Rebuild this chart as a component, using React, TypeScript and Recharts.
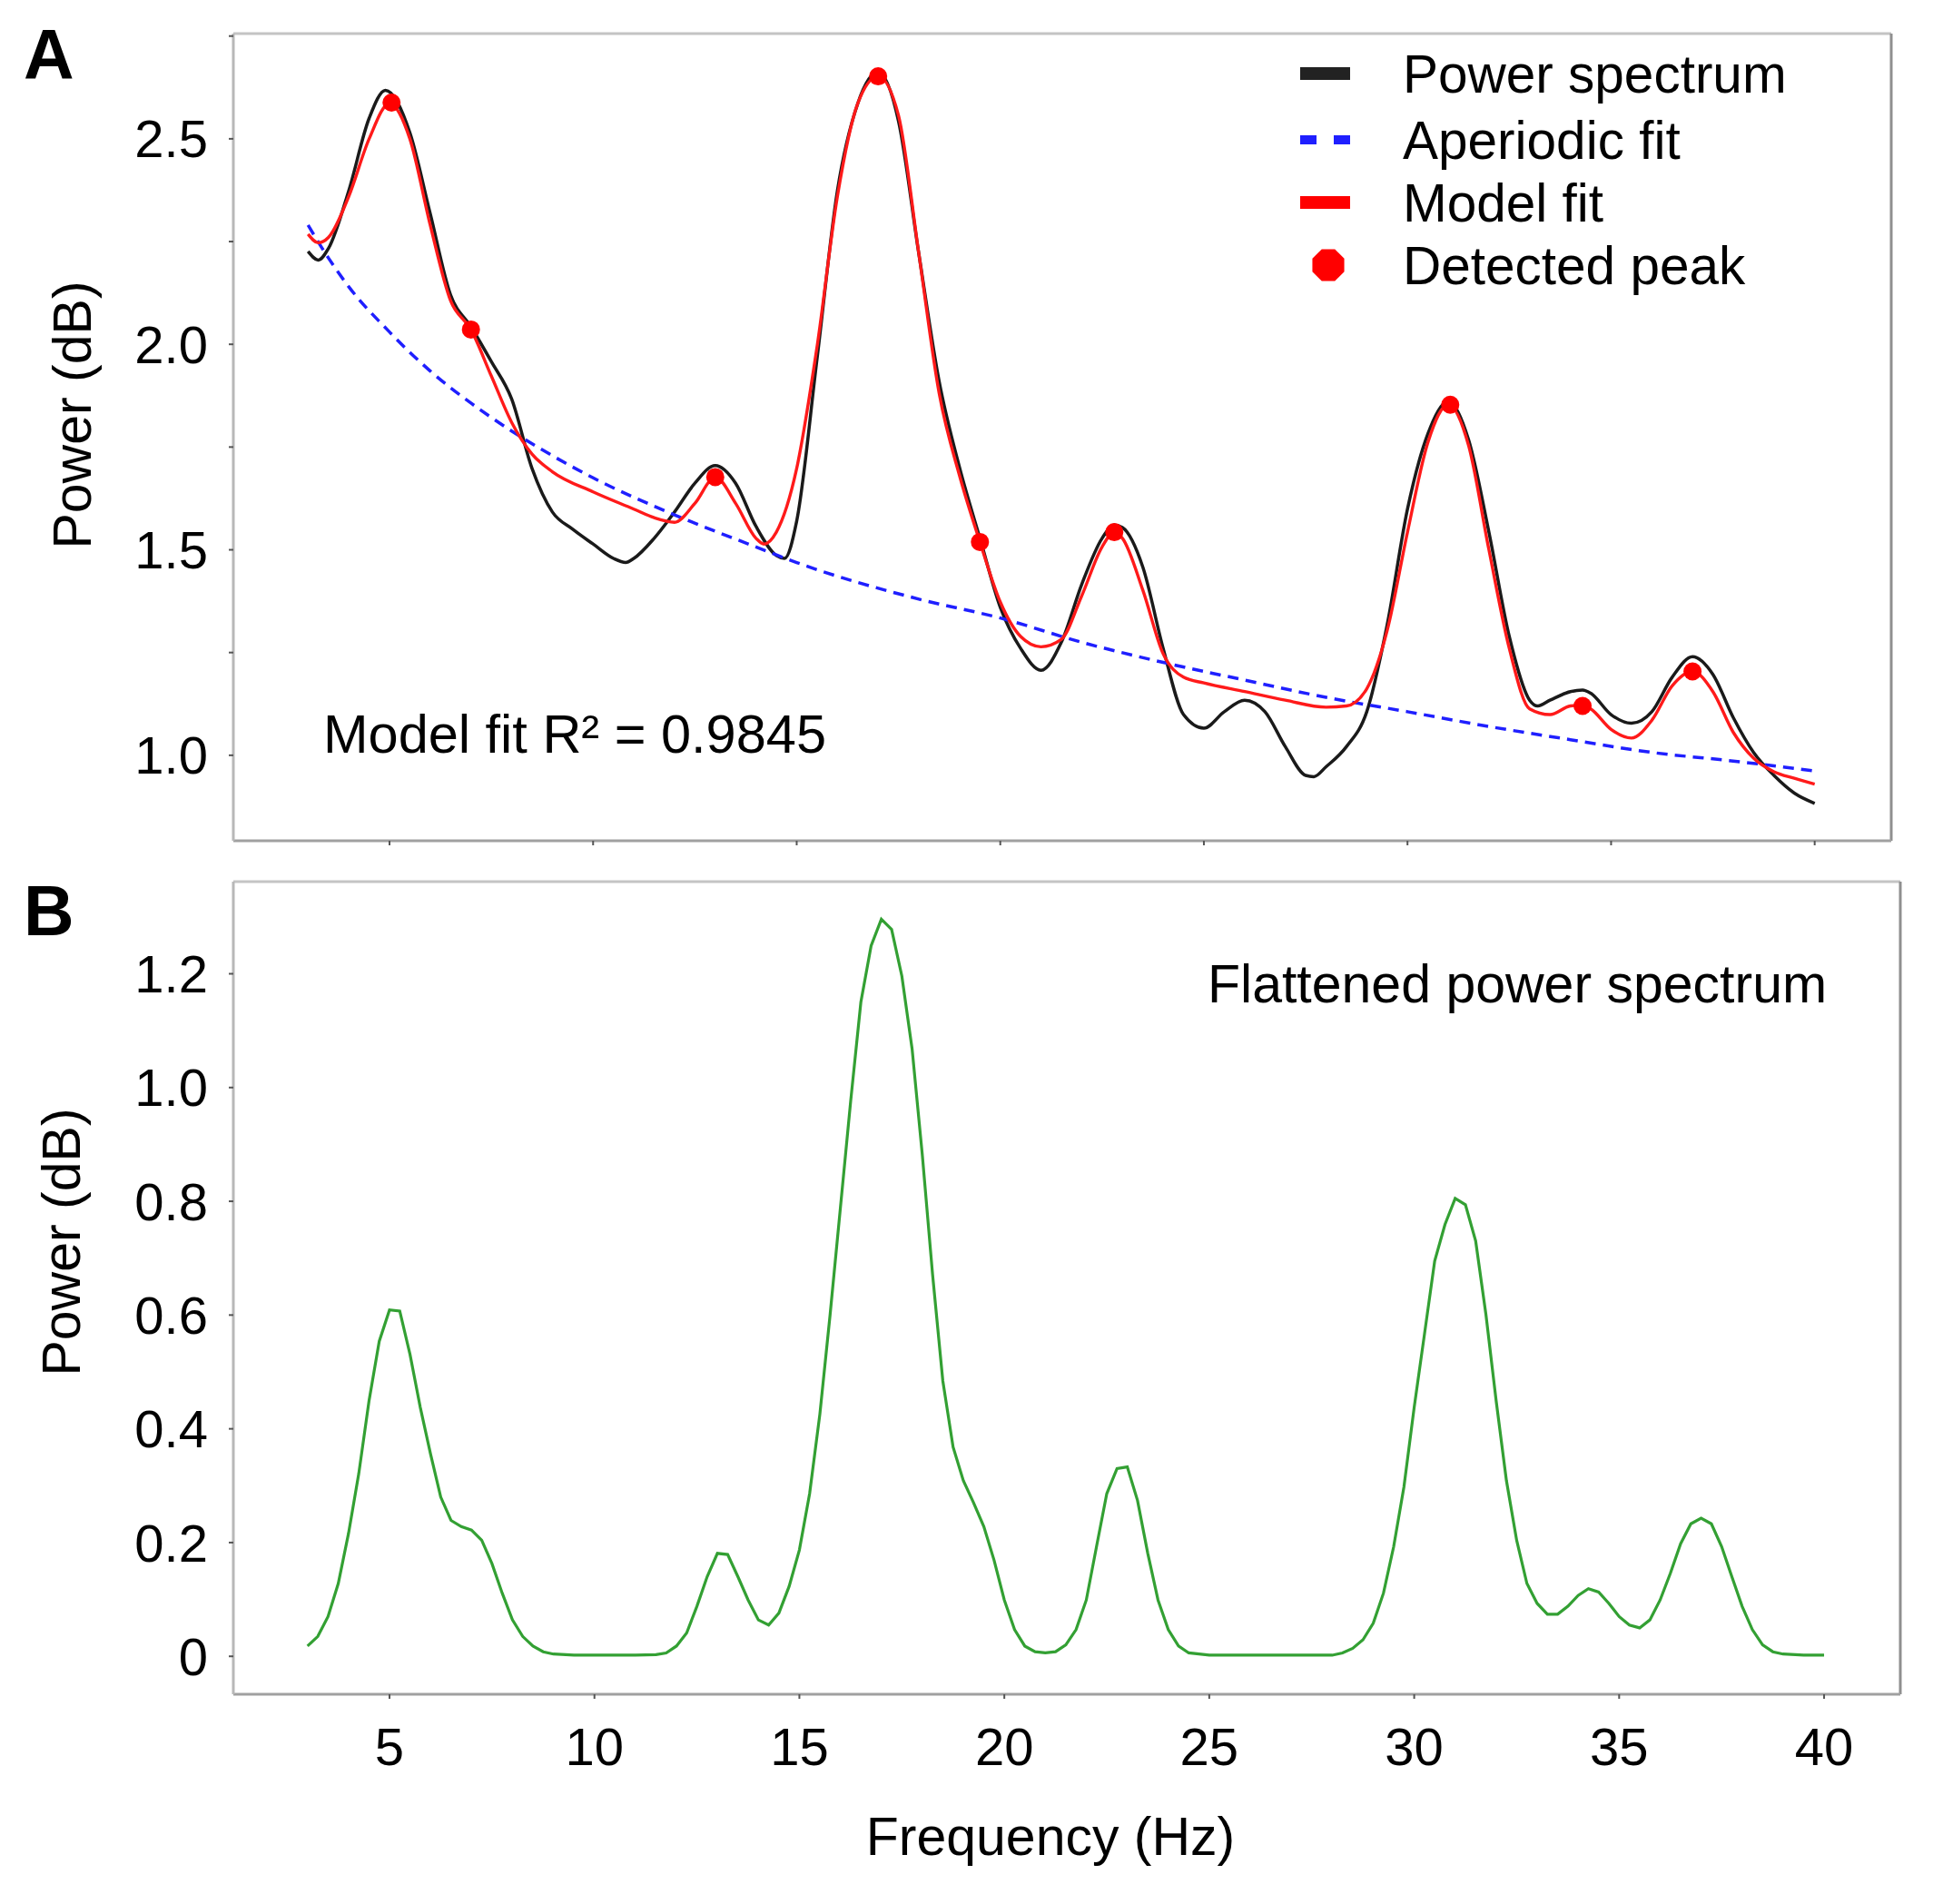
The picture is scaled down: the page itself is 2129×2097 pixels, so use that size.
import React from "react";
import { ComposedChart, Line, XAxis, YAxis, ReferenceLine, Legend } from "recharts";

const FONT = '"Liberation Sans", Arial, Helvetica, sans-serif';

// [frequency Hz, power dB]
const powerSpectrum: [number, number][] = [
  [3.0, 2.226], [3.25, 2.205], [3.5, 2.233], [4.0, 2.374], [4.5, 2.55], [4.9, 2.618],
  [5.5, 2.515], [6.0, 2.318], [6.5, 2.12], [7.0, 2.043], [7.5, 1.958], [8.0, 1.867],
  [8.5, 1.698], [9.0, 1.592], [9.5, 1.55], [10.0, 1.514], [10.5, 1.479], [10.8, 1.469],
  [11.0, 1.479], [11.5, 1.528], [12.0, 1.592], [12.5, 1.662], [13.0, 1.705], [13.5, 1.662],
  [14.0, 1.557], [14.5, 1.486], [14.7, 1.479], [15.0, 1.57], [15.5, 1.965], [16.0, 2.374],
  [16.5, 2.586], [17.0, 2.663], [17.5, 2.543], [18.0, 2.22], [18.5, 1.909], [19.0, 1.7],
  [19.5, 1.528], [20.0, 1.36], [20.5, 1.26], [21.0, 1.207], [21.5, 1.275], [22.0, 1.416],
  [22.5, 1.528], [22.8, 1.56], [23.0, 1.554], [23.5, 1.458], [24.0, 1.26], [24.5, 1.099],
  [25.0, 1.066], [25.5, 1.106], [26.0, 1.134], [26.5, 1.106], [27.0, 1.021], [27.5, 0.951],
  [27.7, 0.948], [28.0, 0.972], [28.5, 1.021], [29.0, 1.106], [29.5, 1.317], [30.0, 1.599],
  [30.5, 1.782], [31.0, 1.86], [31.5, 1.768], [32.0, 1.543], [32.5, 1.289], [33.0, 1.134],
  [33.2, 1.12], [33.5, 1.134], [34.0, 1.155], [34.3, 1.159], [34.5, 1.151], [35.0, 1.099],
  [35.5, 1.078], [36.0, 1.106], [36.5, 1.19], [37.0, 1.24], [37.5, 1.197], [38.0, 1.092],
  [38.5, 1.007], [39.0, 0.951], [39.5, 0.908], [40.0, 0.883],
];

const aperiodicFit: [number, number][] = [
  [3.0, 2.29], [3.5, 2.21], [4.0, 2.14], [5.0, 2.03], [6.0, 1.935], [7.0, 1.857],
  [8.0, 1.789], [9.0, 1.729], [10.0, 1.675], [12.0, 1.585], [14.0, 1.507], [15.0, 1.469],
  [18.0, 1.38], [20.0, 1.334], [22.0, 1.275], [24.0, 1.226], [26.0, 1.183], [28.0, 1.141],
  [30.0, 1.106], [32.0, 1.07], [34.0, 1.038], [36.0, 1.007], [38.0, 0.986], [40.0, 0.962],
];

const modelFit: [number, number][] = [
  [3.0, 2.268], [3.25, 2.247], [3.5, 2.26], [4.0, 2.36], [4.5, 2.5], [5.0, 2.586],
  [5.5, 2.5], [6.0, 2.29], [6.5, 2.106], [7.0, 2.036], [7.5, 1.923], [8.0, 1.81],
  [8.5, 1.733], [9.0, 1.69], [10.0, 1.641], [11.0, 1.599], [11.5, 1.578], [12.0, 1.567],
  [12.5, 1.613], [13.0, 1.677], [13.5, 1.613], [14.0, 1.528], [14.2, 1.514], [14.5, 1.543],
  [15.0, 1.698], [15.5, 1.994], [16.0, 2.36], [16.5, 2.586], [17.0, 2.652], [17.5, 2.557],
  [18.0, 2.22], [18.5, 1.88], [19.0, 1.68], [19.5, 1.519], [20.0, 1.373], [20.5, 1.289],
  [21.0, 1.264], [21.5, 1.282], [22.0, 1.388], [22.5, 1.507], [22.8, 1.543], [23.0, 1.528],
  [23.5, 1.402], [24.0, 1.247], [24.5, 1.19], [25.0, 1.176], [26.0, 1.155], [27.0, 1.134],
  [28.0, 1.117], [28.5, 1.12], [29.0, 1.162], [29.5, 1.303], [30.0, 1.543], [30.5, 1.761],
  [31.0, 1.853], [31.5, 1.754], [32.0, 1.5], [32.5, 1.26], [33.0, 1.113], [33.5, 1.099],
  [34.0, 1.12], [34.3, 1.122], [34.5, 1.113], [35.0, 1.063], [35.5, 1.042], [36.0, 1.085],
  [36.5, 1.169], [37.0, 1.204], [37.5, 1.155], [38.0, 1.056], [38.5, 0.993], [39.0, 0.96],
  [39.5, 0.944], [40.0, 0.93],
];

const detectedPeaks: [number, number][] = [
  [5.05, 2.588], [7.0, 2.036], [13.0, 1.677], [17.0, 2.652], [19.5, 1.519],
  [22.8, 1.543], [31.05, 1.853], [34.3, 1.12], [37.0, 1.204],
];

const flattenedSpectrum: [number, number][] = [
  [3.0, 0.018], [3.25, 0.035], [3.5, 0.07], [3.75, 0.128], [4.0, 0.216], [4.25, 0.321],
  [4.5, 0.449], [4.75, 0.554], [5.0, 0.609], [5.25, 0.607], [5.5, 0.531], [5.75, 0.438],
  [6.0, 0.356], [6.25, 0.28], [6.5, 0.239], [6.75, 0.228], [7.0, 0.222], [7.25, 0.204],
  [7.5, 0.163], [7.75, 0.111], [8.0, 0.064], [8.25, 0.035], [8.5, 0.018], [8.75, 0.008],
  [9.0, 0.004], [9.5, 0.002], [10.0, 0.002], [11.0, 0.002], [11.5, 0.003], [11.75, 0.006],
  [12.0, 0.018], [12.25, 0.041], [12.5, 0.088], [12.75, 0.14], [13.0, 0.181], [13.25, 0.179],
  [13.5, 0.14], [13.75, 0.099], [14.0, 0.064], [14.25, 0.055], [14.5, 0.076], [14.75, 0.123],
  [15.0, 0.187], [15.25, 0.286], [15.5, 0.426], [15.75, 0.601], [16.0, 0.788], [16.25, 0.975],
  [16.5, 1.15], [16.75, 1.249], [17.0, 1.296], [17.25, 1.278], [17.5, 1.196], [17.75, 1.068],
  [18.0, 0.881], [18.25, 0.671], [18.5, 0.484], [18.75, 0.368], [19.0, 0.309], [19.25, 0.27],
  [19.5, 0.228], [19.75, 0.169], [20.0, 0.099], [20.25, 0.047], [20.5, 0.018], [20.75, 0.008],
  [21.0, 0.006], [21.25, 0.008], [21.5, 0.02], [21.75, 0.047], [22.0, 0.099], [22.25, 0.193],
  [22.5, 0.286], [22.75, 0.33], [23.0, 0.333], [23.25, 0.274], [23.5, 0.181], [23.75, 0.099],
  [24.0, 0.047], [24.25, 0.018], [24.5, 0.006], [25.0, 0.002], [26.0, 0.002], [27.0, 0.002],
  [28.0, 0.002], [28.25, 0.006], [28.5, 0.014], [28.75, 0.029], [29.0, 0.058], [29.25, 0.111],
  [29.5, 0.193], [29.75, 0.298], [30.0, 0.438], [30.25, 0.566], [30.5, 0.695], [30.75, 0.759],
  [31.0, 0.805], [31.25, 0.794], [31.5, 0.73], [31.75, 0.601], [32.0, 0.449], [32.25, 0.309],
  [32.5, 0.204], [32.75, 0.128], [33.0, 0.093], [33.25, 0.074], [33.5, 0.074], [33.75, 0.088],
  [34.0, 0.107], [34.25, 0.119], [34.5, 0.113], [34.75, 0.093], [35.0, 0.07], [35.25, 0.055],
  [35.5, 0.05], [35.75, 0.064], [36.0, 0.099], [36.25, 0.146], [36.5, 0.198], [36.75, 0.233],
  [37.0, 0.243], [37.25, 0.233], [37.5, 0.193], [37.75, 0.14], [38.0, 0.088], [38.25, 0.047],
  [38.5, 0.02], [38.75, 0.008], [39.0, 0.004], [39.5, 0.002], [40.0, 0.002],
];

const freqTicks = [5, 10, 15, 20, 25, 30, 35, 40];
const powerTicksA = [1.0, 1.25, 1.5, 1.75, 2.0, 2.25, 2.5, 2.75];
const powerTicksB = [0, 0.2, 0.4, 0.6, 0.8, 1.0, 1.2];

const legendLabels = ["Power spectrum", "Aperiodic fit", "Model fit", "Detected peak"];

const xDomainA: [number, number] = [1.165, 41.88];
const yDomainA: [number, number] = [0.792, 2.756];
const xDomainB: [number, number] = [1.19, 41.86];
const yDomainB: [number, number] = [-0.0667, 1.362];

const toPoints = (pairs: [number, number][]) => pairs.map(([f, v]) => ({ f, v }));

const tickStyle = { fontSize: 58, fill: "#000", fontFamily: FONT };
const tickLineStyle = { stroke: "#555", strokeWidth: 2 };

const fmtA = (v: number) => (Math.abs(v * 2 - Math.round(v * 2)) < 1e-6 && v < 2.7 ? v.toFixed(1) : "");
const fmtB = (v: number) => (v === 0 ? "0" : v.toFixed(1));

function octagon(cx: number, cy: number, r: number) {
  const pts: string[] = [];
  for (let i = 0; i < 8; i++) {
    const a = Math.PI / 8 + (i * Math.PI) / 4;
    pts.push(`${cx + r * Math.cos(a)},${cy + r * Math.sin(a)}`);
  }
  return pts.join(" ");
}

function LegendBox() {
  const rowY = [41, 114, 183, 252];
  return (
    <svg width={700} height={300} style={{ display: "block" }}>
      <line x1={32} x2={87} y1={rowY[0]} y2={rowY[0]} stroke="#222" strokeWidth={14} />
      <line x1={32} x2={87} y1={rowY[1]} y2={rowY[1]} stroke="#1f1fff" strokeWidth={10} strokeDasharray="18 19" />
      <line x1={32} x2={87} y1={rowY[2]} y2={rowY[2]} stroke="#ff0000" strokeWidth={14} />
      <polygon points={octagon(63, rowY[3], 19)} fill="#ff0000" />
      {legendLabels.map((label, i) => (
        <text key={label} x={145} y={rowY[i] + 21} fontSize={58.5} fontFamily={FONT} fill="#000">
          {label}
        </text>
      ))}
    </svg>
  );
}

export default function App() {
  return (
    <div style={{ position: "absolute", left: 0, top: 0, width: 2129, height: 2097, background: "#fff", fontFamily: FONT }}>
      <div style={{ position: "absolute", left: 0, top: 0 }}>
        <ComposedChart width={2129} height={960} margin={{ top: 37, right: 46, bottom: 0, left: 0 }}>
          <XAxis
            dataKey="f"
            type="number"
            domain={xDomainA}
            allowDataOverflow
            ticks={freqTicks}
            tickFormatter={() => ""}
            height={34}
            axisLine={{ stroke: "#a0a0a0", strokeWidth: 3 }}
            tickLine={tickLineStyle}
            tickSize={5}
            tick={tickStyle}
          />
          <YAxis
            type="number"
            domain={yDomainA}
            allowDataOverflow
            ticks={powerTicksA}
            tickFormatter={fmtA}
            width={257}
            axisLine={{ stroke: "#b8b8b8", strokeWidth: 3 }}
            tickLine={tickLineStyle}
            tickSize={5}
            tickMargin={23}
            tick={tickStyle}
          />
          <ReferenceLine y={yDomainA[1]} stroke="#c4c4c4" strokeWidth={3} />
          <ReferenceLine x={xDomainA[1]} stroke="#8f8f8f" strokeWidth={3} />
          <Line data={toPoints(powerSpectrum)} dataKey="v" type="monotone" stroke="#1a1a1a" strokeWidth={3.5} dot={false} activeDot={false} isAnimationActive={false} />
          <Line data={toPoints(aperiodicFit)} dataKey="v" type="monotone" stroke="#1f1fff" strokeWidth={3.5} strokeDasharray="12 8" dot={false} activeDot={false} isAnimationActive={false} />
          <Line data={toPoints(modelFit)} dataKey="v" type="monotone" stroke="#ff1a1a" strokeWidth={3.4} dot={false} activeDot={false} isAnimationActive={false} />
          <Line data={toPoints(detectedPeaks)} dataKey="v" stroke="none" dot={{ r: 10, fill: "#ff0000", stroke: "none" }} activeDot={false} isAnimationActive={false} />
          <Legend
            layout="vertical"
            align="center"
            verticalAlign="middle"
            wrapperStyle={{ left: 1400, top: 40, width: 700, height: 300 }}
            content={() => <LegendBox />}
          />
        </ComposedChart>
      </div>

      <div style={{ position: "absolute", left: 0, top: 940 }}>
        <ComposedChart width={2129} height={1157} margin={{ top: 31, right: 36, bottom: 0, left: 0 }}>
          <XAxis
            dataKey="f"
            type="number"
            domain={xDomainB}
            allowDataOverflow
            ticks={freqTicks}
            height={231}
            axisLine={{ stroke: "#a0a0a0", strokeWidth: 3 }}
            tickLine={tickLineStyle}
            tickSize={5}
            tickMargin={32}
            tick={tickStyle}
          />
          <YAxis
            type="number"
            domain={yDomainB}
            allowDataOverflow
            ticks={powerTicksB}
            tickFormatter={fmtB}
            width={257}
            axisLine={{ stroke: "#b8b8b8", strokeWidth: 3 }}
            tickLine={tickLineStyle}
            tickSize={5}
            tickMargin={23}
            tick={tickStyle}
          />
          <ReferenceLine y={yDomainB[1]} stroke="#c4c4c4" strokeWidth={3} />
          <ReferenceLine x={xDomainB[1]} stroke="#8f8f8f" strokeWidth={3} />
          <Line data={toPoints(flattenedSpectrum)} dataKey="v" type="linear" stroke="#33a033" strokeWidth={3.2} dot={false} activeDot={false} isAnimationActive={false} />
        </ComposedChart>
      </div>

      <svg width={2129} height={2097} style={{ position: "absolute", left: 0, top: 0, pointerEvents: "none" }}>
        <g fontFamily={FONT} fill="#000">
          <text x={26} y={87} fontSize={77} fontWeight="bold">A</text>
          <text x={26} y={1030} fontSize={77} fontWeight="bold">B</text>
          <text transform="translate(100,457) rotate(-90)" textAnchor="middle" fontSize={59}>Power (dB)</text>
          <text transform="translate(88,1368) rotate(-90)" textAnchor="middle" fontSize={59}>Power (dB)</text>
          <text x={1157} y={2043} textAnchor="middle" fontSize={59}>Frequency (Hz)</text>
          <text x={356} y={829} fontSize={59.5}>Model fit R² = 0.9845</text>
          <text x={1330} y={1104} fontSize={59}>Flattened power spectrum</text>
        </g>
      </svg>
    </div>
  );
}
